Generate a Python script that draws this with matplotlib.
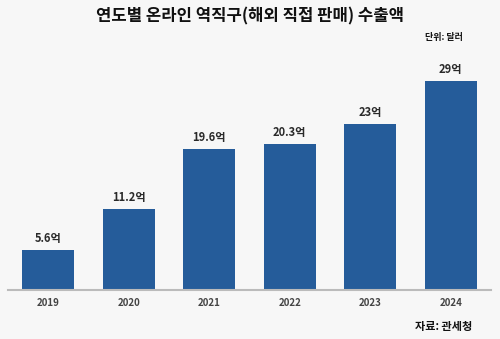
import matplotlib.pyplot as plt

plt.rcParams['font.family'] = ['Noto Sans CJK KR', 'DejaVu Sans']

years = ["2019", "2020", "2021", "2022", "2023", "2024"]
values = [5.6, 11.2, 19.6, 20.3, 23, 29]
labels = ["5.6억", "11.2억", "19.6억", "20.3억", "23억", "29억"]

fig = plt.figure(figsize=(5, 3.39), dpi=100, facecolor="#f7f7f7")
ax = fig.add_axes([0.016, 0.1445, 0.966, 0.74])
ax.set_facecolor("#f7f7f7")

x = range(len(years))
bars = ax.bar(x, values, width=0.64, color="#255c9a")
for b, lab in zip(bars, labels):
    ax.text(b.get_x() + b.get_width() / 2, b.get_height() + 0.7, lab,
            ha="center", va="bottom", fontsize=8, fontweight="heavy", color="#2a2a2a")

ax.set_xlim(-0.5, 5.5)
ax.set_ylim(0, 34.8)
ax.set_xticks(list(x))
ax.set_xticklabels(years, fontsize=7, fontweight="bold", color="#444444")
ax.tick_params(axis="x", length=0, pad=6)
ax.set_yticks([])
for s in ["top", "right", "left"]:
    ax.spines[s].set_visible(False)
ax.spines["bottom"].set_color("#bbbbbb")
ax.spines["bottom"].set_linewidth(1.5)

fig.text(0.5, 0.952, "연도별 온라인 역직구(해외 직접 판매) 수출액", ha="center", va="center",
         fontsize=12, fontweight="heavy", color="#111111")
fig.text(0.926, 0.888, "단위: 달러", ha="right", va="center",
         fontsize=6.5, fontweight="bold", color="#111111")
fig.text(0.944, 0.038, "자료: 관세청", ha="right", va="center",
         fontsize=8, fontweight="bold", color="#111111")

fig.savefig("out.png", dpi=100, facecolor=fig.get_facecolor())
